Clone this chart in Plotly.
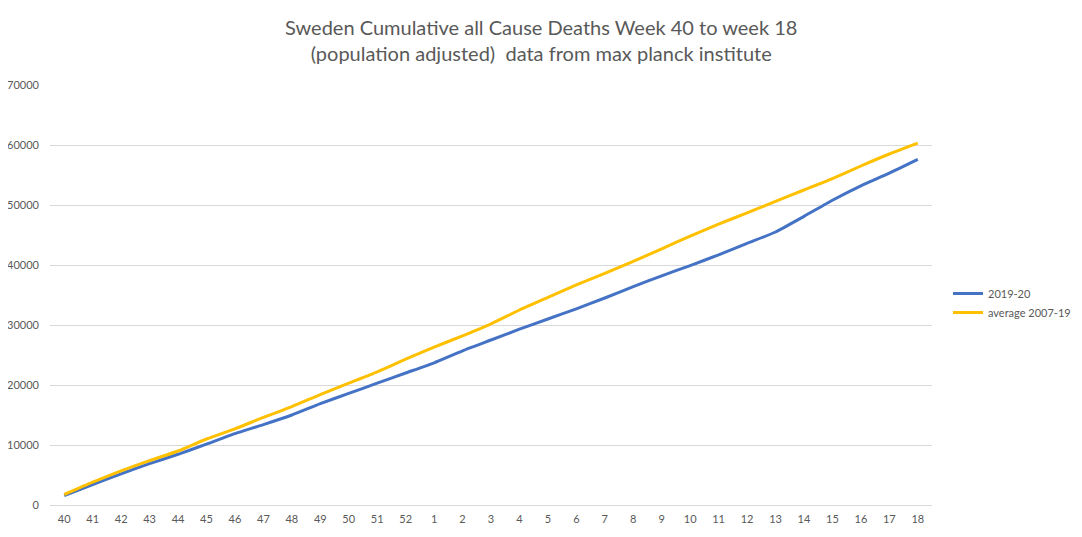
import plotly.graph_objects as go

# week labels, week 40 of 2019 to week 18 of 2020
weeks = ['40', '41', '42', '43', '44', '45', '46', '47', '48', '49', '50', '51', '52',
         '1', '2', '3', '4', '5', '6', '7', '8', '9', '10', '11', '12', '13', '14',
         '15', '16', '17', '18']

# cumulative deaths
deaths_2019_20 = [1550, 3400, 5200, 6900, 8450, 10150, 11900, 13400, 15000, 16900,
                  18600, 20300, 22000, 23700, 25700, 27500, 29300, 31000, 32700,
                  34500, 36400, 38200, 39900, 41700, 43600, 45500, 48100, 50800,
                  53200, 55300, 57600]
deaths_avg = [1750, 3800, 5700, 7400, 9000, 11000, 12700, 14600, 16400, 18400,
              20300, 22200, 24300, 26300, 28200, 30200, 32500, 34600, 36700,
              38600, 40600, 42700, 44800, 46800, 48700, 50600, 52500, 54400,
              56500, 58500, 60300]

title_lines = ['Sweden Cumulative all Cause Deaths Week 40 to week 18',
               '(population adjusted)  data from max planck institute']

font_main = 'Lato, sans-serif'
grey_txt = '#595959'

fig = go.Figure()
fig.add_trace(go.Scatter(x=weeks, y=deaths_2019_20, mode='lines', name='2019-20',
                         line=dict(color='#4472C4', width=3, shape='spline', smoothing=0.5)))
fig.add_trace(go.Scatter(x=weeks, y=deaths_avg, mode='lines', name='average 2007-19',
                         line=dict(color='#FFC000', width=3, shape='spline', smoothing=0.5)))

# page body puts the figure 8px in from the corner, so size and margins allow for it
W, H = 1074, 529
l, r, t, b = 42, 150, 77, 32
pw, ph = W - l - r, H - t - b

fig.update_layout(
    width=W, height=H,
    margin=dict(l=l, r=r, t=t, b=b, autoexpand=False),
    paper_bgcolor='white', plot_bgcolor='white',
    font=dict(family=font_main, color=grey_txt, size=11),
    xaxis=dict(type='category', range=[-0.5, 30.5], showgrid=False, automargin=False,
               showline=True, linecolor='#d9d9d9', ticks='', ticklabelstandoff=4,
               tickfont=dict(size=11, color=grey_txt)),
    yaxis=dict(range=[0, 70000], dtick=10000, showgrid=True, gridcolor='#d9d9d9',
               zeroline=False, showline=False, ticks='', tickformat='d', automargin=False,
               ticklabelstandoff=10, tickfont=dict(size=11, color=grey_txt)),
    legend=dict(xref='container', yref='container', x=940 / W, xanchor='left',
                y=1 - 295 / H, yanchor='middle', tracegroupgap=0, itemwidth=30,
                font=dict(size=11, color=grey_txt), bgcolor='rgba(0,0,0,0)'),
    annotations=[dict(text='<br>'.join(title_lines), xref='paper', yref='paper',
                      x=(533 - l) / pw, y=1 + (t - 32) / ph, xanchor='center',
                      yanchor='middle', showarrow=False, align='center',
                      font=dict(family=font_main, size=20, color=grey_txt))],
)

fig.write_html("out.html")
